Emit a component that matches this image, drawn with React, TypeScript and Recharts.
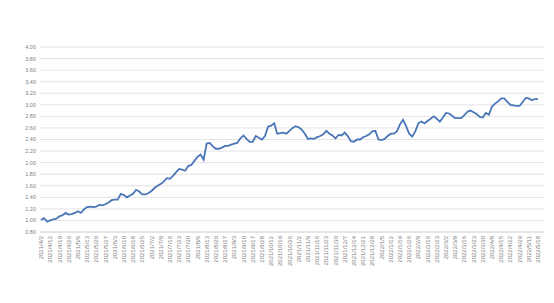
import { LineChart, Line, XAxis, YAxis, CartesianGrid } from "recharts";

// one label every 5 trading days; values sampled 3 per label step
const DATES = [
  "2021/4/2", "2021/4/12", "2021/4/19", "2021/4/26", "2021/5/6", "2021/5/13", "2021/5/20", "2021/5/27",
  "2021/6/3", "2021/6/10", "2021/6/18", "2021/6/25", "2021/7/2", "2021/7/9", "2021/7/16", "2021/7/23",
  "2021/7/30", "2021/8/6", "2021/8/13", "2021/8/20", "2021/8/27", "2021/9/3", "2021/9/10", "2021/9/17",
  "2021/9/28", "2021/10/12", "2021/10/19", "2021/10/26", "2021/11/2", "2021/11/9", "2021/11/16",
  "2021/11/23", "2021/11/30", "2021/12/7", "2021/12/14", "2021/12/21", "2021/12/28", "2022/1/5",
  "2022/1/12", "2022/1/19", "2022/1/26", "2022/2/9", "2022/2/16", "2022/2/23", "2022/3/2", "2022/3/9",
  "2022/3/16", "2022/3/23", "2022/3/30", "2022/4/8", "2022/4/15", "2022/4/22", "2022/4/29",
  "2022/5/11", "2022/5/18",
];

const NAV = [
  1.01, 1.04, 0.98, 1.0, 1.02, 1.03, 1.07, 1.09, 1.13, 1.1, 1.11, 1.13,
  1.16, 1.13, 1.19, 1.23, 1.24, 1.23, 1.24, 1.27, 1.26, 1.28, 1.31, 1.35,
  1.36, 1.36, 1.46, 1.44, 1.4, 1.43, 1.46, 1.53, 1.5, 1.45, 1.45, 1.47,
  1.51, 1.56, 1.6, 1.63, 1.67, 1.73, 1.72, 1.77, 1.83, 1.89, 1.88, 1.86,
  1.94, 1.96, 2.03, 2.1, 2.14, 2.05, 2.33, 2.34, 2.28, 2.24, 2.24, 2.26,
  2.29, 2.29, 2.31, 2.33, 2.34, 2.42, 2.47, 2.41, 2.36, 2.36, 2.46, 2.43,
  2.4, 2.46, 2.62, 2.64, 2.68, 2.5, 2.51, 2.52, 2.5, 2.55, 2.6, 2.63,
  2.61, 2.57, 2.5, 2.41, 2.42, 2.41, 2.44, 2.46, 2.49, 2.55, 2.5, 2.47,
  2.42, 2.48, 2.47, 2.52, 2.46, 2.37, 2.36, 2.4, 2.4, 2.44, 2.46, 2.49,
  2.54, 2.55, 2.4, 2.39, 2.41, 2.46, 2.5, 2.5, 2.54, 2.66, 2.74, 2.63,
  2.5, 2.45, 2.54, 2.68, 2.71, 2.68, 2.72, 2.76, 2.8, 2.76, 2.71, 2.78,
  2.86, 2.85, 2.81, 2.77, 2.77, 2.77, 2.82, 2.88, 2.9, 2.87, 2.84, 2.79,
  2.78, 2.86, 2.83, 2.97, 3.02, 3.06, 3.11, 3.11, 3.05, 3.0, 2.99, 2.98,
  2.98, 3.05, 3.12, 3.11, 3.08, 3.1, 3.1,
];

const Y_TICKS = [0.8, 1.0, 1.2, 1.4, 1.6, 1.8, 2.0, 2.2, 2.4, 2.6, 2.8, 3.0, 3.2, 3.4, 3.6, 3.8, 4.0];

const data = NAV.map((v, i) => ({
  date: i % 3 === 0 ? DATES[i / 3] : "",
  value: v,
}));

const FONT = "'Liberation Sans', Arial, sans-serif";

function DateTick(props: any) {
  const { x, y, payload } = props;
  return (
    <g transform={`translate(${x},${y})`}>
      <text transform="rotate(-90)" textAnchor="end" dy="0.35em" fontSize={6} fill="#808080" fontFamily={FONT}>
        {payload.value}
      </text>
    </g>
  );
}

export default function App() {
  return (
    <div style={{ position: "absolute", left: 0, top: 0, width: 554, height: 303, background: "#fff" }}>
      <LineChart width={554} height={303} data={data} margin={{ top: 47, right: 10, bottom: 31, left: 0 }}>
        <CartesianGrid vertical={false} stroke="#e3e3e3" strokeWidth={1} />
        <XAxis
          dataKey="date"
          interval={2}
          height={40}
          tick={<DateTick />}
          tickLine={false}
          tickSize={2}
          tickMargin={2}
          axisLine={{ stroke: "#d9d9d9" }}
          padding={{ left: 1, right: 6 }}
        />
        <YAxis
          domain={[0.8, 4.0]}
          ticks={Y_TICKS}
          interval={0}
          width={40}
          tickFormatter={(v: number) => v.toFixed(2)}
          tick={{ fontSize: 5.5, fill: "#808080", fontFamily: FONT }}
          tickLine={false}
          axisLine={false}
          tickSize={2}
          tickMargin={2}
        />
        <Line
          type="linear"
          dataKey="value"
          stroke="#4a76b8"
          strokeWidth={1.8}
          dot={false}
          isAnimationActive={false}
        />
      </LineChart>
    </div>
  );
}
